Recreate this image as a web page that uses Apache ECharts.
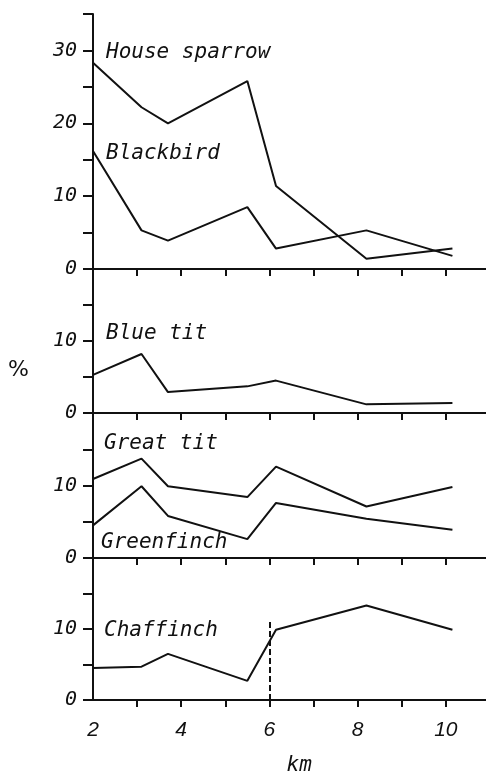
<!DOCTYPE html>
<html>
<head>
<meta charset="utf-8">
<script src="https://cdn.jsdelivr.net/npm/echarts@6/dist/echarts.min.js"></script>
<style>
html,body{margin:0;padding:0;background:#fff;}
#chart{width:486px;height:777px;}
</style>
</head>
<body>
<div id="chart"></div>
<script>
// distance from town centre (km) at sampling sites
const km = [2.0, 3.1, 3.7, 5.5, 6.15, 8.2, 10.15];
// percentages
const houseSparrow = [28.3, 22.2, 20.0, 25.8, 11.4, 1.4, 2.8];
const blackbird    = [16.2, 5.3, 3.9, 8.5, 2.8, 5.3, 1.8];
const blueTit      = [5.3, 8.2, 2.9, 3.7, 4.5, 1.2, 1.4];
const greatTit     = [10.9, 13.7, 9.9, 8.4, 12.6, 7.1, 9.8];
const greenfinch   = [4.5, 9.9, 5.8, 2.6, 7.6, 5.4, 3.9];
const chaffinch    = [4.5, 4.7, 6.5, 2.7, 9.9, 13.3, 9.9];
const markerKm = 6;
const markerTop = 11.3;
const xTickLabels = [2, 4, 6, 8, 10];
const xTickMarks = [3, 4, 5, 6, 7, 8, 9, 10];
const panelMax = [35, 20, 20, 20];
const speciesNames = ['House sparrow', 'Blackbird', 'Blue tit', 'Great tit', 'Greenfinch', 'Chaffinch'];

const ink = '#111';
const mono = 'DejaVu Sans Mono';
const pts = arr => arr.map((v, i) => [km[i], v]);

const grids = [
  {left: 93, width: 392.5, top: 14, height: 255},
  {left: 93, width: 392.5, top: 269, height: 144},
  {left: 93, width: 392.5, top: 413, height: 145},
  {left: 93, width: 392.5, top: 558, height: 144}
];

const xAxes = grids.map((g, i) => ({
  type: 'value', gridIndex: i, min: 2, max: 10.9,
  axisLine: {show: true, onZero: false, lineStyle: {color: ink, width: 2}},
  axisTick: {show: true, length: 7, customValues: xTickMarks, lineStyle: {color: ink, width: 2}},
  splitLine: {show: false},
  axisLabel: {
    show: i === 3, margin: 20, customValues: xTickLabels,
    color: ink, fontFamily: 'Liberation Sans', fontStyle: 'italic', fontSize: 21,
    formatter: v => String(v)
  },
  name: i === 3 ? 'km' : '',
  nameLocation: 'middle', nameGap: 55,
  nameTextStyle: {color: ink, fontFamily: mono, fontStyle: 'italic', fontSize: 21, padding: [0, 0, 0, 20]}
}));

const yAxes = grids.map((g, i) => ({
  type: 'value', gridIndex: i, min: 0, max: panelMax[i], interval: 5,
  axisLine: {show: true, lineStyle: {color: ink, width: 2}},
  axisTick: {show: true, length: 10, lineStyle: {color: ink, width: 2}},
  splitLine: {show: false},
  axisLabel: {
    margin: 16, color: ink, fontFamily: mono, fontStyle: 'italic', fontSize: 20,
    formatter: v => (v % 10 === 0 && v < (i === 0 ? 35 : 20)) ? String(v) : ''
  }
}));

function line(name, data, gi, extra) {
  return Object.assign({
    name: name, type: 'line', xAxisIndex: gi, yAxisIndex: gi,
    data: pts(data), symbol: 'none', smooth: false, animation: false,
    lineStyle: {color: ink, width: 2}
  }, extra || {});
}

const labelStyle = {fill: ink, fontFamily: mono, fontStyle: 'italic', fontSize: 21};
function txt(s, x, y) {
  return {type: 'text', left: x, top: y, style: Object.assign({text: s}, labelStyle)};
}

const option = {
  backgroundColor: '#fff',
  animation: false,
  grid: grids,
  xAxis: xAxes,
  yAxis: yAxes,
  series: [
    line(speciesNames[0], houseSparrow, 0),
    line(speciesNames[1], blackbird, 0),
    line(speciesNames[2], blueTit, 1),
    line(speciesNames[3], greatTit, 2),
    line(speciesNames[4], greenfinch, 2),
    line(speciesNames[5], chaffinch, 3, {
      markLine: {
        silent: true, symbol: 'none', animation: false, label: {show: false},
        lineStyle: {color: ink, width: 2, type: [6, 3]},
        data: [[{coord: [markerKm, 0]}, {coord: [markerKm, markerTop]}]]
      }
    })
  ],
  graphic: [
    txt(speciesNames[0], 106, 42),
    txt(speciesNames[1], 106, 143),
    txt(speciesNames[2], 106, 323),
    txt(speciesNames[3], 104, 433),
    txt(speciesNames[4], 101, 532),
    txt(speciesNames[5], 104, 620),
    {type: 'text', left: 8, top: 359, style: {text: '%', fill: ink, fontFamily: 'DejaVu Sans', fontSize: 22}}
  ]
};

const chart = echarts.init(document.getElementById('chart'), null, {renderer: 'canvas'});
chart.setOption(option);
</script>
</body>
</html>
